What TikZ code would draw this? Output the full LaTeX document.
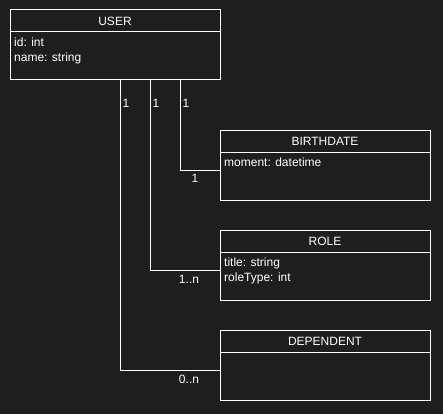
\documentclass[tikz,border=0pt]{standalone}
\usepackage{fontspec}
\setmainfont{Liberation Sans}
\usetikzlibrary{positioning}
\definecolor{canvas}{HTML}{1E1E1E}
\definecolor{ink}{HTML}{FFFFFF}
\tikzset{
  classhead/.style = {rectangle, draw=ink, text=ink, line width=1pt,
                      minimum width=210pt, minimum height=22pt, inner sep=0pt,
                      outer sep=0pt, font=\fontsize{12}{14}\selectfont},
  classbody/.style = {rectangle, draw=ink, line width=1pt,
                      minimum width=210pt, minimum height=48pt, inner sep=0pt,
                      outer sep=0pt},
  attr/.style      = {anchor=north west, align=left, text=ink, inner xsep=4pt,
                      inner ysep=5.5pt, font=\fontsize{12}{15}\selectfont},
  mult/.style      = {text=ink, inner sep=0pt, font=\fontsize{12}{14}\selectfont},
  link/.style      = {draw=ink, line width=1pt}
}
\begin{document}
\begin{tikzpicture}[x=1pt, y=-1pt]
  \fill[canvas] (0,0) rectangle (443,414);
  \useasboundingbox (0,0) rectangle (443,414);
  % classes
  \node [classhead] (user) at (115,21) {USER};
  \node [classbody, below=0pt of user] (userbody) {};
  \node [attr] at (userbody.north west) {id: int\\name: string};

  \node [classhead] (bd) at (325,141) {BIRTHDATE};
  \node [classbody, below=0pt of bd] (bdbody) {};
  \node [attr] at (bdbody.north west) {moment: datetime};

  \node [classhead] (role) at (325,241) {ROLE};
  \node [classbody, below=0pt of role] (rolebody) {};
  \node [attr] at (rolebody.north west) {title: string\\roleType: int};

  \node [classhead] (dep) at (325,341) {DEPENDENT};
  \node [classbody, below=0pt of dep] (depbody) {};
  % associations
  \draw [link] ([xshift=65pt]userbody.south) |- ([yshift=-18pt]bdbody.north west);
  \draw [link] ([xshift=35pt]userbody.south) |- ([yshift=-18pt]rolebody.north west);
  \draw [link] ([xshift=5pt]userbody.south) |- ([yshift=-18pt]depbody.north west);
  % multiplicities
  \node [mult] (m1) at (186,103) {1};
  \node [mult] (m2) at (156,103) {1};
  \node [mult] (m3) at (126,103) {1};
  \node [mult] (m4) at (195,178) {1};
  \node [mult] (m5) at (189,279) {1..n};
  \node [mult] (m6) at (189,379) {0..n};
\end{tikzpicture}
\end{document}
